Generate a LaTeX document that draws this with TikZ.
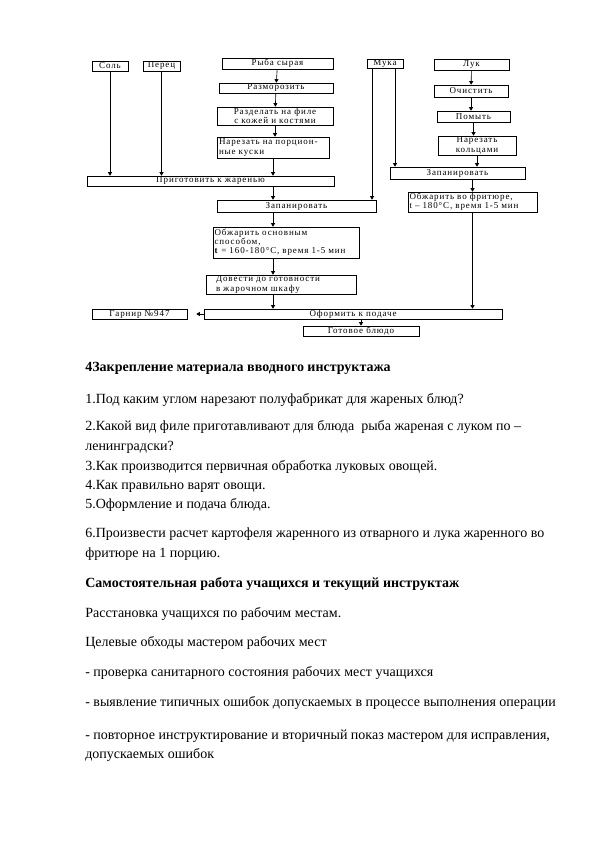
\documentclass[tikz,border=0pt]{standalone}
\usepackage{fontspec}
\setmainfont{Liberation Serif}
\newfontfamily\boxfont[LetterSpace=10]{Liberation Serif}
\usepackage{tikz}
\usetikzlibrary{arrows.meta,positioning}

\begin{document}
\begin{tikzpicture}[x=1pt,y=-1pt,>={Triangle[width=4pt,length=3.5pt]},line width=0.6pt]
            \tikzstyle{box}=[draw,inner sep=0pt,align=center,font=\boxfont\fontsize{9}{9.2}\selectfont]
            \tikzstyle{be}=[->]
            \tikzstyle{txt}=[anchor=base west,inner sep=0pt,font=\fontsize{14}{16}\selectfont]

            \useasboundingbox (0,0) rectangle (595,842);

            % left column
            \node[box,minimum width=36pt,minimum height=10pt]  (sol)   at (110,66)    {Соль};
            \node[box,minimum width=37pt,minimum height=10pt]  (perec) at (161.5,66)  {Перец};
            % fish
            \node[box,minimum width=111pt,minimum height=11pt] (ryba)  at (277.5,63.5) {Рыба сырая};
            \node[box,minimum width=114pt,minimum height=10pt] (razm)  at (276,88)    {Разморозить};
            \node[box,minimum width=116pt,minimum height=18pt] (razd)  at (275,116)   {Разделать на филе\\с кожей и костями};
            \node[box,minimum width=112pt,minimum height=21pt,align=left,text width=108pt] (narez) at (273,147.5) {Нарезать на порцион-\\ные куски};
            % onion
            \node[box,minimum width=36pt,minimum height=9pt]   (muka)  at (385,63.5)  {Мука};
            \node[box,minimum width=75pt,minimum height=11pt]  (luk)   at (471.5,64.5) {Лук};
            \node[box,minimum width=74pt,minimum height=12pt]  (ochist) at (471,91)   {Очистить};
            \node[box,minimum width=73pt,minimum height=11pt]  (pomyt) at (473.5,116.5) {Помыть};
            \node[box,minimum width=78pt,minimum height=19pt]  (narkol) at (477,145.5) {Нарезать\\кольцами};
            \node[box,minimum width=135pt,minimum height=12pt] (zapR)  at (457.5,173) {Запанировать};
            \node[box,minimum width=129pt,minimum height=20pt,align=left,text width=126pt] (fritR) at (472.5,202) {Обжарить во фритюре,\\t – 180°С, время 1-5 мин};
            % frying
            \node[box,minimum width=247pt,minimum height=10pt] (prig)  at (210.5,181) {Приготовить к жаренью};
            \node[box,minimum width=159pt,minimum height=12pt] (zapL)  at (296.5,206) {Запанировать};
            \node[box,minimum width=146pt,minimum height=31pt,align=left,text width=143pt] (obzh) at (286,242.5) {Обжарить основным\\способом,\\\textbf{t} = 160-180°С, время 1-5 мин};
            \node[box,minimum width=150pt,minimum height=19pt,align=left,text width=130pt] (dovesti) at (281,284.5) {Довести до готовности\\в жарочном шкафу};
            \node[box,minimum width=298pt,minimum height=10pt] (oform) at (353,314)   {Оформить к подаче};
            \node[box,minimum width=95pt,minimum height=10pt]  (garnir) at (139.5,314) {Гарнир №947};
            \node[box,minimum width=116pt,minimum height=10pt] (gotov) at (361,331)   {Готовое блюдо};

            \draw[be] (sol.south) -- (sol.south |- prig.north);
            \draw[be] (perec.south) -- (perec.south |- prig.north);
            \draw[be] (ryba) -- (razm);
            \draw[be] (razm) -- (razd);
            \draw[be] (razd.south) -- (razd.south |- narez.north);
            \draw[be] (narez.south) -- (narez.south |- prig.north);
            \draw[be] (luk) -- (ochist);
            \draw[be] (ochist.south) -- (ochist.south |- pomyt.north);
            \draw[be] (pomyt.south) -- (pomyt.south |- narkol.north);
            \draw[be] (narkol.south) -- (narkol.south |- zapR.north);
            \draw[be] ([xshift=10pt]muka.south) -- ([xshift=10pt]muka.south |- zapR.north);
            \draw[be] ([xshift=-13pt]muka.south) -- ([xshift=-13pt]muka.south |- zapL.north);
            \draw[be] (narez.south |- prig.south) -- (narez.south |- zapL.north);
            \draw[be] (narez.south |- zapL.south) -- (narez.south |- obzh.north);
            \draw[be] (narez.south |- obzh.south) -- (narez.south |- dovesti.north);
            \draw[be] (narez.south |- dovesti.south) -- (narez.south |- oform.north);
            \draw[be] (zapR.south -| fritR.north) -- (fritR.north);
            \draw[be] (fritR.south) -- (fritR.south |- oform.north);
            \draw[be] (oform.south -| gotov.north) -- (gotov.north);
            \draw[be,shorten >=9pt] (oform.west) -- (garnir.east);

            % text under the scheme
            \node[txt,font=\fontsize{14}{16}\selectfont\bfseries] (t0) at (85,371) {4Закрепление материала вводного инструктажа};
            \node[txt] (t1)  at (85,403) {1.Под каким углом нарезают полуфабрикат для жареных блюд?};
            \node[txt] (t2)  at (85,430) {2.Какой вид филе приготавливают для блюда~ рыба жареная с луком по –};
            \node[txt] (t2b) at (85,450) {ленинградски?};
            \node[txt] (t3)  at (85,470) {3.Как производится первичная обработка луковых овощей.};
            \node[txt] (t4)  at (85,489) {4.Как правильно варят овощи.};
            \node[txt] (t5)  at (85,508) {5.Оформление и подача блюда.};
            \node[txt] (t6)  at (85,537) {6.Произвести расчет картофеля жаренного из отварного и лука жаренного во};
            \node[txt] (t6b) at (85,557) {фритюре на 1 порцию.};
            \node[txt,font=\fontsize{14}{16}\selectfont\bfseries] (s0) at (85,587) {Самостоятельная работа учащихся и текущий инструктаж};
            \node[txt] (s1)  at (85,617) {Расстановка учащихся по рабочим местам.};
            \node[txt] (s2)  at (85,646) {Целевые обходы мастером рабочих мест};
            \node[txt] (s3)  at (85,676) {- проверка санитарного состояния рабочих мест учащихся};
            \node[txt] (s4)  at (85,706) {- выявление типичных ошибок допускаемых в процессе выполнения операции};
            \node[txt] (s5)  at (85,739) {- повторное инструктирование и вторичный показ мастером для исправления,};
            \node[txt] (s6)  at (85,758) {допускаемых ошибок};

        \end{tikzpicture}
\end{document}
